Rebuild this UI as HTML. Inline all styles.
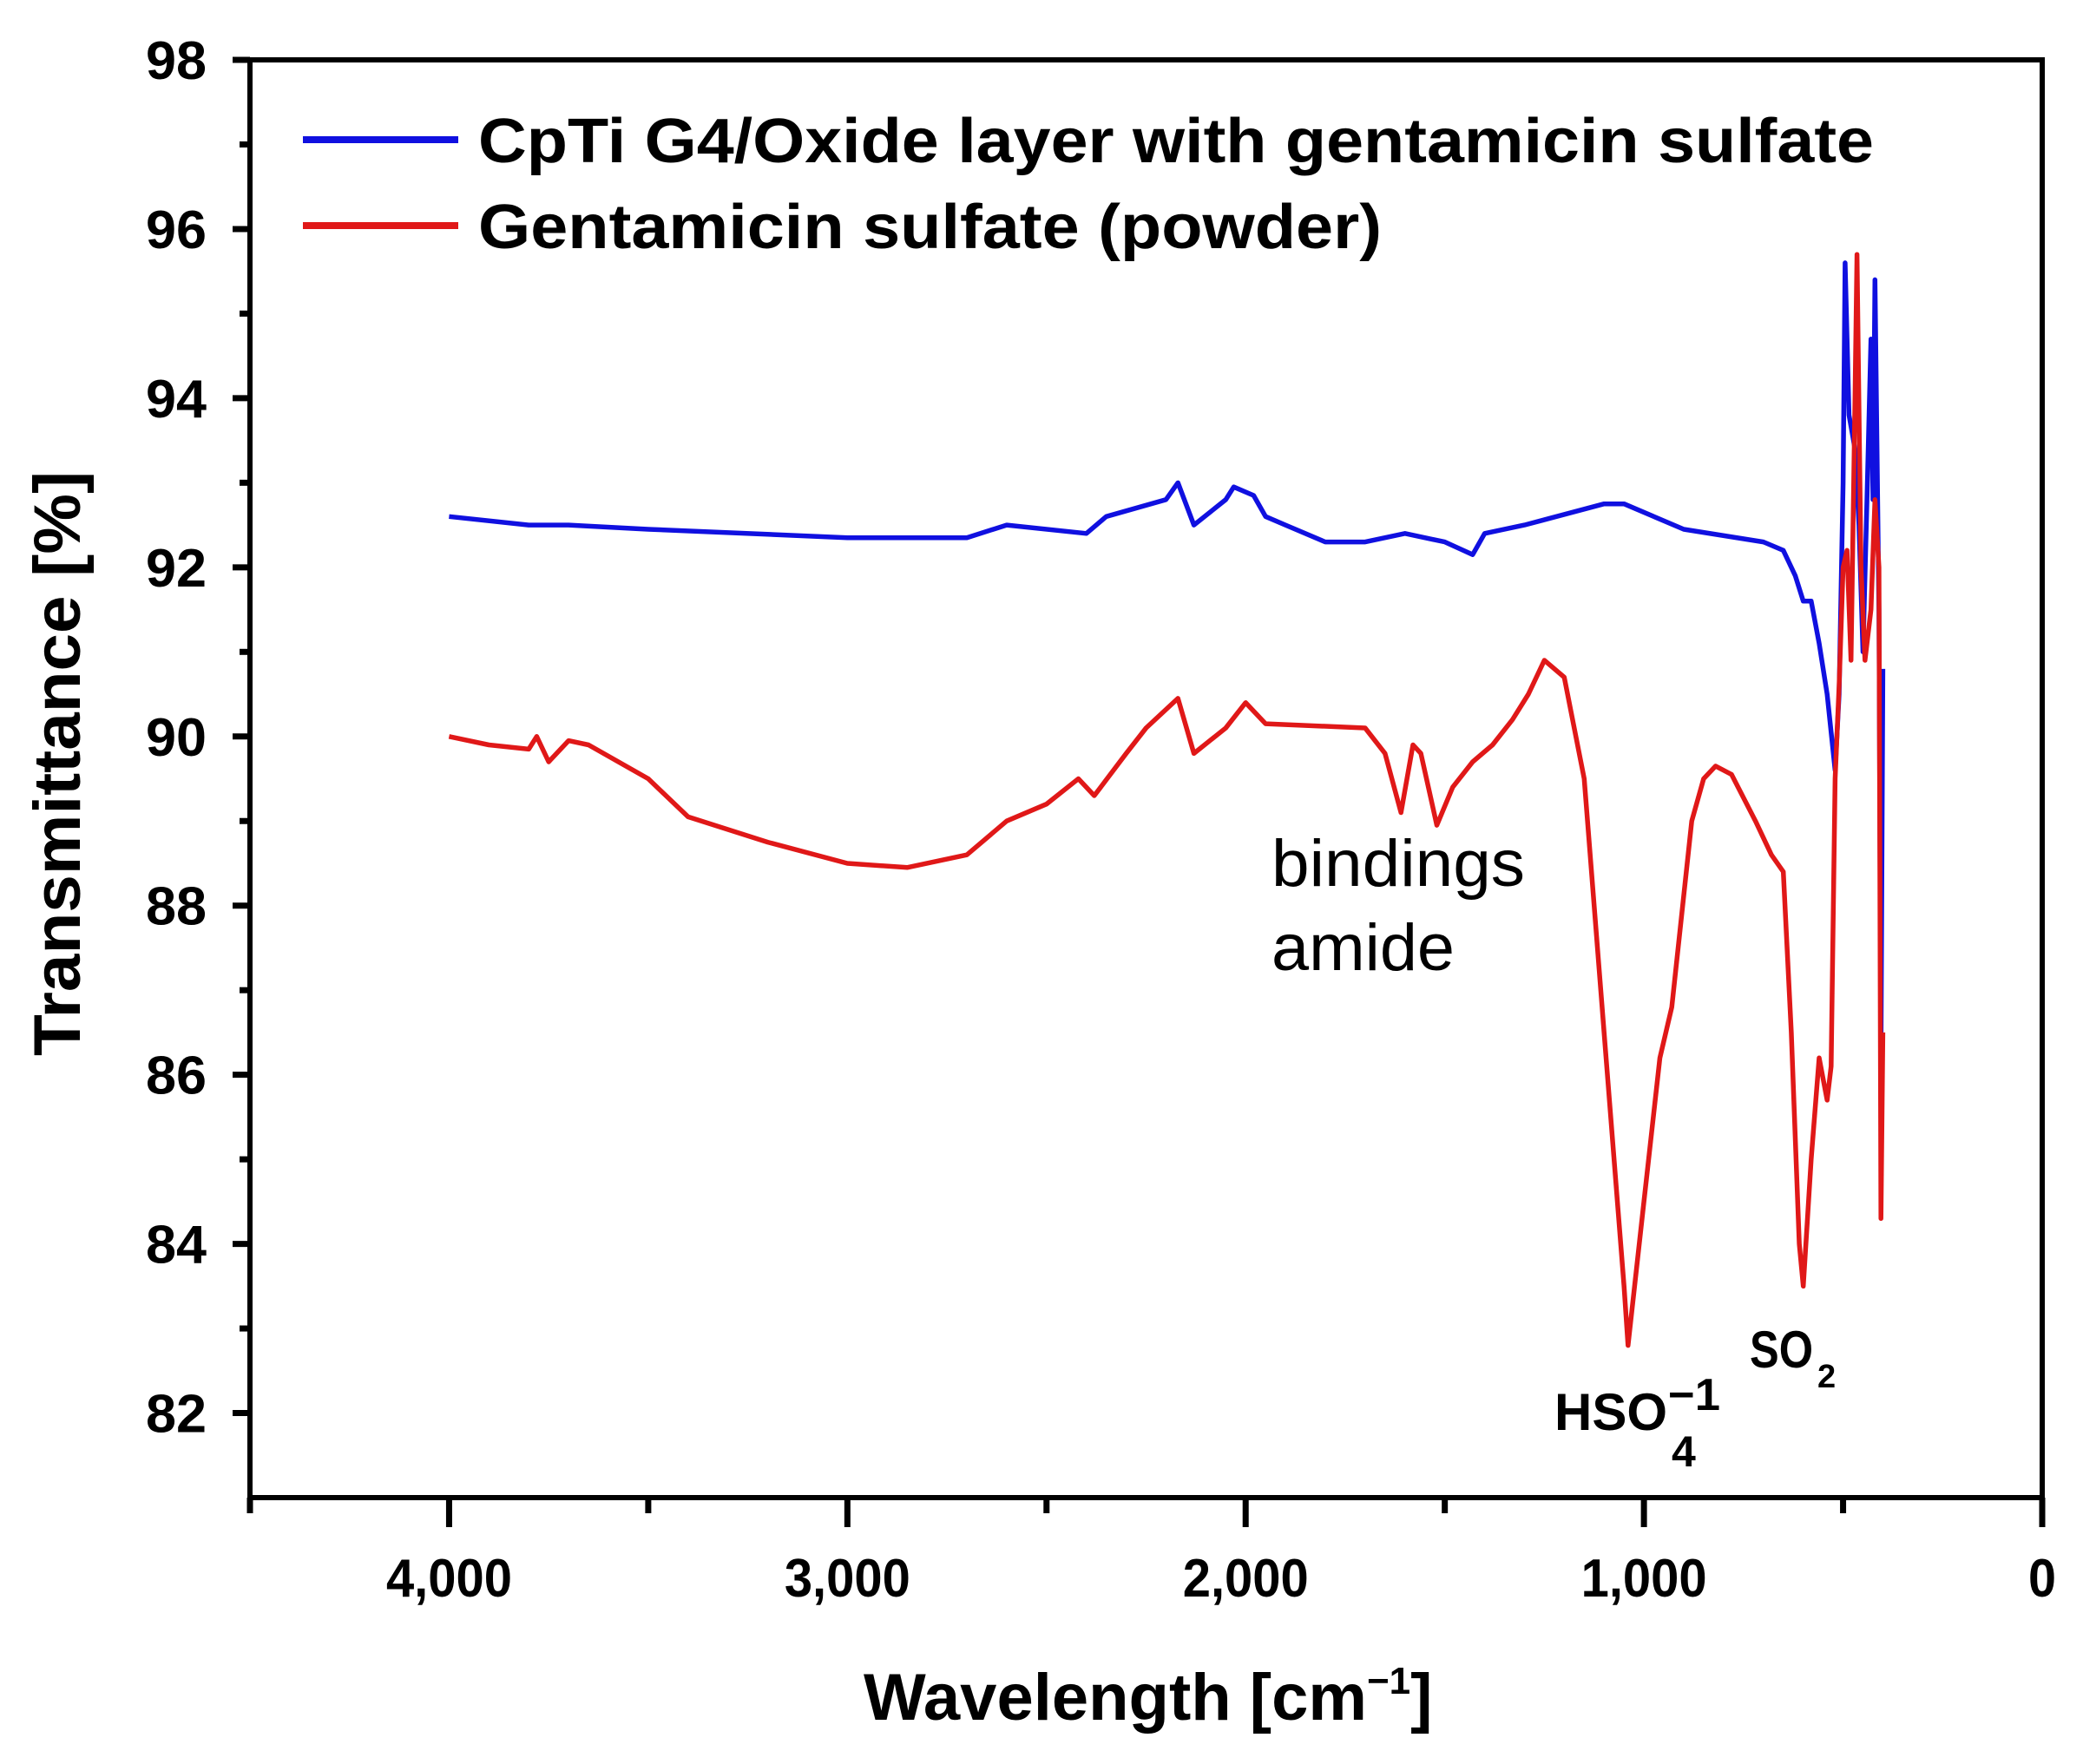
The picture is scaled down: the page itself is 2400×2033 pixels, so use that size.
<!DOCTYPE html>
<html><head><meta charset="utf-8"><style>
html,body{margin:0;padding:0;background:#fff}
svg{display:block}
text{font-family:"Liberation Sans",Arial,sans-serif}
</style></head><body>
<svg id="chart" width="2400" height="2033" viewBox="0 0 2400 2033" xmlns="http://www.w3.org/2000/svg">
<g id="plot"></g>
</svg>
<script>
const yTicks=[82,84,86,88,90,92,94,96,98];
const xTicks=[4000,3000,2000,1000,0];
const xTickLabels=["4,000","3,000","2,000","1,000","0"];
const blueW=[4000,3800,3700,3500,3000,2700,2600,2400,2350,2200,2170,2130,2050,2030,1980,1950,1900,1800,1700,1600,1500,1430,1400,1300,1100,1050,900,700,650,620,600,580,560,540,520,510,500,495,485,470,460,450,440,430,425,420,410,405,400];
const blueT=[92.6,92.5,92.5,92.45,92.35,92.35,92.5,92.4,92.6,92.8,93.0,92.5,92.8,92.95,92.85,92.6,92.5,92.3,92.3,92.4,92.3,92.15,92.4,92.5,92.75,92.75,92.45,92.3,92.2,91.9,91.6,91.6,91.1,90.5,89.6,90.5,93,95.6,93.8,93.4,92.5,91.0,92.8,94.7,92.8,95.4,91.5,86.2,90.8];
const redW=[4000,3900,3800,3780,3750,3700,3650,3500,3400,3200,3000,2850,2700,2600,2500,2420,2380,2300,2250,2170,2130,2050,2000,1950,1700,1650,1610,1580,1560,1520,1480,1430,1380,1330,1290,1250,1200,1150,1100,1050,1040,1000,960,930,880,850,820,780,720,680,650,630,610,600,580,560,540,530,520,510,500,490,480,470,465,455,445,430,420,410,405,400];
const redT=[90.0,89.9,89.85,90.0,89.7,89.95,89.9,89.5,89.05,88.75,88.5,88.45,88.6,89.0,89.2,89.5,89.3,89.8,90.1,90.45,89.8,90.1,90.4,90.15,90.1,89.8,89.1,89.9,89.8,88.95,89.4,89.7,89.9,90.2,90.5,90.9,90.7,89.5,86.5,83.5,82.8,84.5,86.2,86.8,89.0,89.5,89.65,89.55,89.0,88.6,88.4,86.5,84.0,83.5,85.0,86.2,85.7,86.1,89.5,90.6,92.0,92.2,90.9,94.0,95.7,92.0,90.9,91.5,92.8,92.0,84.3,86.5];

const L=288,R=2353,T=69,B=1726;
const xMin=4500,xMax=0,yMin=81,yMax=98;
const xs=w=>L+(xMin-w)/(xMin-xMax)*(R-L);
const ys=v=>B-(v-yMin)/(yMax-yMin)*(B-T);
const NS="http://www.w3.org/2000/svg";
const g=document.getElementById('plot');
function el(tag,attrs,parent){const e=document.createElementNS(NS,tag);for(const k in attrs)e.setAttribute(k,attrs[k]);(parent||g).appendChild(e);return e;}

const fr=el('rect',{x:L,y:T,width:R-L,height:B-T,fill:'none',stroke:'#000','stroke-width':6});



for(let v=82;v<=98;v++){
  const major=v%2===0;
  const t=el('line',{x1:L-(major?20:12),x2:L,y1:ys(v),y2:ys(v),stroke:'#000','stroke-width':7});
  
  
}
yTicks.forEach(v=>{
  const t=el('text',{x:238,y:ys(v)+22,'text-anchor':'end','font-size':62,'font-weight':'bold',textLength:70,lengthAdjust:'spacingAndGlyphs'});
  t.textContent=v;
  
  
});
for(let w=4500;w>=0;w-=500){
  const major=w%1000===0;
  const t=el('line',{x1:xs(w),x2:xs(w),y1:B,y2:B+(major?34:18),stroke:'#000','stroke-width':7});
  
  
}
xTicks.forEach((w,i)=>{
  const s=xTickLabels[i];
  const t=el('text',{x:xs(w),y:1840,'text-anchor':'middle','font-size':62,'font-weight':'bold',textLength:s.length>1?145:32,lengthAdjust:'spacingAndGlyphs'});
  t.textContent=s;
  
  
});

function series(W,V,color,name){
  const d=W.map((w,i)=>(i?'L':'M')+xs(w).toFixed(1)+' '+ys(V[i]).toFixed(1)).join(' ');
  const p=el('path',{d:d,fill:'none',stroke:color,'stroke-width':5.5,'stroke-linejoin':'round'});
  
  
}
series(blueW,blueT,'#1010e0','series-cpti-oxide');
series(redW,redT,'#e01818','series-gentamicin-powder');

const lg=[['#1010e0','CpTi G4/Oxide layer with gentamicin sulfate',161,187,1608],['#e01818','Gentamicin sulfate (powder)',260,286,1041]];
lg.forEach(([c,txt,y,by,tl])=>{
  const l=el('line',{x1:349,x2:528,y1:y,y2:y,stroke:c,'stroke-width':8});
  
  
  const t=el('text',{x:551,y:by,'font-size':72,'font-weight':'bold',textLength:tl,lengthAdjust:'spacingAndGlyphs'});
  t.textContent=txt;
  
  
});

function txt(x,y,s,size,bold,name,tl){const a={x:x,y:y,'font-size':size,'font-weight':bold?'bold':'normal'};if(tl){a.textLength=tl;a.lengthAdjust='spacingAndGlyphs';}const t=el('text',a);t.textContent=s;return t;}
txt(1465,1021,'bindings',76,false,'annotation-bindings',292);
txt(1465,1118,'amide',76,false,'annotation-amide',211);
txt(1791,1648,'HSO',60,true,'annotation-hso4',130);
txt(1922,1625,'−1',52,true,'annotation-hso4-charge',60);
txt(1926,1690,'4',50,true,'annotation-hso4-sub');
txt(2016,1576,'SO',60,true,'annotation-so2',73);
txt(2094,1599,'2',38,true,'annotation-so2-sub');

const yt=el('text',{x:0,y:0,'font-size':76,'font-weight':'bold','text-anchor':'middle',textLength:674,lengthAdjust:'spacingAndGlyphs',transform:'translate(92,880) rotate(-90)'});
yt.textContent='Transmittance [%]';


const xt=el('text',{x:995,y:1982,'font-size':76,'font-weight':'bold'});
xt.innerHTML='Wavelength [cm<tspan font-size="44" dy="-30">−1</tspan><tspan dy="30">]</tspan>';


</script>
</body></html>
